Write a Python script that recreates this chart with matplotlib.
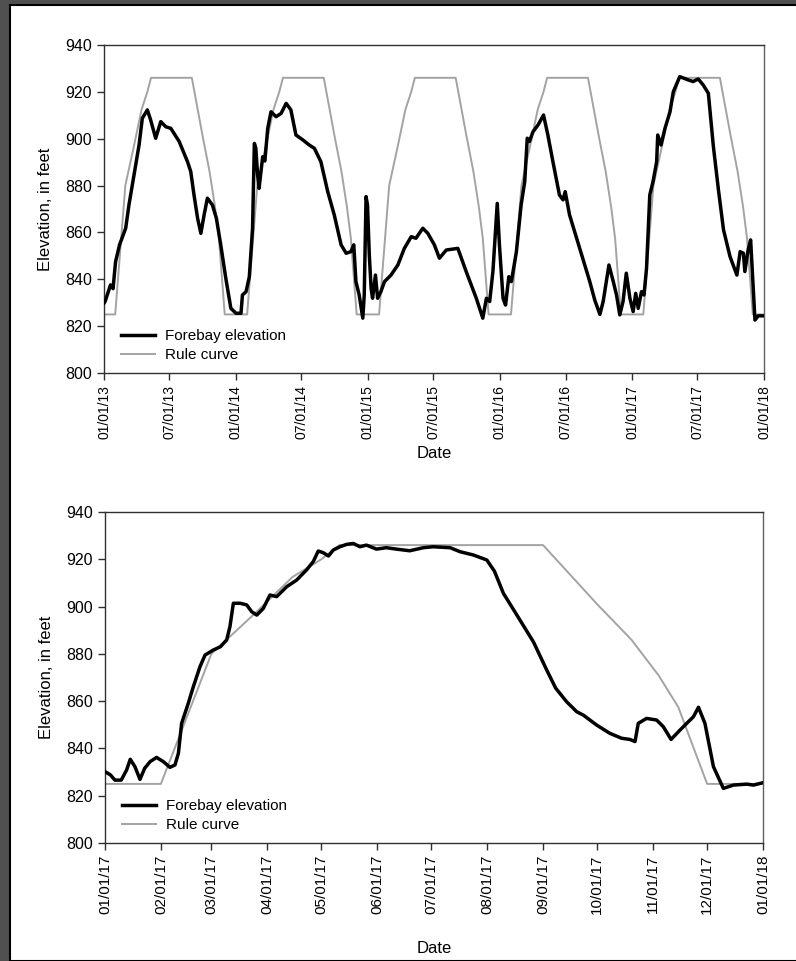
import numpy as np
import pandas as pd
import matplotlib
matplotlib.use('Agg')
import matplotlib.pyplot as plt
import matplotlib.dates as mdates
from matplotlib.patches import Rectangle

# ---- data ------------------------------------------------------------
# forebay elevation 2013-2017, days since 01/01/13
top_day = [0, 3, 18, 25, 32, 43, 60, 69, 83, 97, 106, 120, 129, 143, 157, 171, 185, 208,
           231, 240, 249, 259, 268, 277, 286, 300, 311, 323, 337, 351, 365, 379, 383, 393,
           402, 411, 416, 420, 425, 429, 439, 445, 453, 462, 476, 490, 504, 517, 531, 550,
           568, 582, 600, 619, 637, 656, 670, 683, 691, 697, 706, 716, 720, 725, 729, 734,
           739, 743, 751, 757, 766, 776, 794, 813, 831, 850, 863, 882, 896, 914, 928, 947,
           979, 1002, 1030, 1048, 1058, 1067, 1076, 1088, 1094, 1104, 1111, 1120, 1127,
           1141, 1154, 1164, 1171, 1177, 1187, 1201, 1216, 1228, 1242, 1260, 1270, 1276,
           1288, 1316, 1344, 1358, 1372, 1381, 1397, 1409, 1418, 1427, 1436, 1445, 1455,
           1464, 1471, 1478, 1487, 1494, 1501, 1510, 1519, 1529, 1532, 1541, 1552, 1566,
           1575, 1593, 1616, 1630, 1644, 1658, 1672, 1686, 1700, 1714, 1732, 1751, 1760,
           1769, 1773, 1782, 1789, 1801, 1810, 1824]
top_ft = [829.8, 830.5, 837.6, 836, 847.5, 854.7, 861.8, 871.7, 884.5, 897.3, 908.7, 912.3,
          908, 900.2, 907.3, 905.1, 904.4, 898.8, 890.2, 886, 876, 866, 859.6, 867.5, 874.6,
          871.7, 866, 854.7, 840.4, 827.6, 825.5, 825.5, 833.3, 834.7, 841, 861.8, 898, 896,
          884.5, 878.8, 892.3, 890.5, 904.4, 911.5, 909.4, 910.8, 915.1, 912.3, 901.6, 899.5,
          897.3, 895.9, 890.2, 877.4, 867.5, 854.7, 851.1, 851.8, 854.7, 839, 833.3, 823.4,
          833.3, 875.3, 871.7, 850.4, 836.2, 831.9, 841.8, 831.9, 834.7, 839, 841.8, 846.1,
          853.2, 858.2, 857.5, 861.8, 859.6, 854.7, 849, 852.5, 853.2, 843.3, 831.9, 823.4,
          831.9, 830.5, 843.3, 872.4, 854.7, 831.9, 829, 841.1, 839, 851.8, 871.7, 881.7,
          900.2, 898.8, 903, 905.9, 910.1, 901.6, 890.2, 876, 873.9, 877.4, 867.5, 853.2,
          839, 831, 825, 830.5, 846.1, 839, 833.3, 824.8, 830.5, 842.6, 831.9, 826.2, 834,
          827.6, 834.7, 833.3, 844.7, 876, 881.7, 890.2, 901.6, 897.3, 904.4, 911.5, 920,
          926.5, 925.1, 924.4, 925.5, 922.9, 919.4, 896.6, 878.1, 861.1, 849.7, 841.8, 851.8,
          851.1, 843.3, 852.5, 856.8, 822.6, 824.4, 824.4]

# forebay elevation 2017, days since 01/01/17
bot_day = [0, 3, 5.5, 9, 12, 14, 16.6, 19.4, 22, 25, 28.6, 32.4, 36, 38.8, 40.7, 42.5, 46.2,
           49, 52.7, 55.5, 60, 64, 67.5, 69.3, 71.2, 75, 78.6, 81.4, 84.2, 87.8, 91.5, 95.2,
           100.8, 106.3, 111.8, 115.5, 118.3, 121, 124, 126.6, 130.3, 134, 137.7, 141.4, 145,
           150.6, 156, 161.7, 169, 176.6, 182, 191.4, 197, 204.4, 211.8, 216, 221, 228.4,
           237.7, 245, 250, 256, 261.7, 265.3, 272.7, 280, 286.6, 291.2, 294, 295.8, 300.4,
           306, 309.7, 314, 319, 323.6, 326.4, 329.2, 332.8, 337.5, 343, 348.6, 356, 359.7, 365]
bot_ft = [830.2, 828.8, 826.6, 826.6, 830.9, 835.4, 832.3, 826.9, 831.6, 834.4, 836.2, 834.4,
          832, 833, 837.9, 850.6, 859.1, 866.1, 874.6, 879.5, 881.6, 883, 885.9, 891.5, 901.4,
          901.4, 900.7, 897.8, 896.4, 899.2, 904.9, 904.2, 908.4, 911.2, 915.5, 919, 923.5,
          922.8, 921.4, 923.9, 925.3, 926.3, 926.7, 925.3, 926, 924.3, 924.9, 924.3, 923.6,
          924.9, 925.3, 924.9, 923.2, 921.8, 919.7, 915, 905.6, 896.5, 885, 873.2, 865.5,
          859.8, 855.5, 854.1, 849.9, 846.4, 844.3, 843.8, 842.9, 850.6, 852.7, 852, 849.2,
          843.8, 847.8, 851.3, 853.4, 857.4, 850.6, 832.3, 823.1, 824.5, 824.9, 824.5, 825.5]

# annual rule curve (same every year)
rule_md = ['01-01', '02-01', '03-01', '03-25', '04-15', '05-01', '05-11', '09-01',
           '10-01', '10-20', '11-04', '11-15', '12-01', '12-31']
rule_ft = [825, 825, 880, 897, 912.5, 920, 926, 926, 901, 886, 871, 857.5, 825, 825]
rule_years = [2013, 2014, 2015, 2016, 2017]

top_dates = pd.Timestamp('2013-01-01') + pd.to_timedelta(top_day, unit='D')
bot_dates = pd.Timestamp('2017-01-01') + pd.to_timedelta(bot_day, unit='D')
top_rule_dates = pd.to_datetime([f'{y}-{md}' for y in rule_years for md in rule_md])
top_rule_ft = rule_ft * len(rule_years)
bot_rule_dates = pd.to_datetime([f'2017-{md}' for md in rule_md])

# ---- figure -------------------------------------------------------------
fig = plt.figure(figsize=(7.96, 9.61), dpi=100, facecolor='#505050')
fig.patches.append(Rectangle((10 / 796, 0), 1, 1 - 5 / 961, transform=fig.transFigure,
                             facecolor='white', edgecolor='black', linewidth=1.5, zorder=-10))

regular = ['Liberation Sans', 'DejaVu Sans']

ax1 = fig.add_axes([104 / 796, 1 - 373 / 961, 660 / 796, 328 / 961])
ax2 = fig.add_axes([105 / 796, 1 - 843 / 961, 658 / 796, 331 / 961])


def style(ax, xmin, xmax, ticks, xtick_size, date_pad):
    ax.set_xlim(pd.Timestamp(xmin), pd.Timestamp(xmax))
    ax.set_ylim(800, 940)
    ax.set_yticks(range(800, 941, 20))
    ax.set_xticks(ticks)
    ax.xaxis.set_major_formatter(mdates.DateFormatter('%m/%d/%y'))
    for s in ax.spines.values():
        s.set_color('#303030')
        s.set_linewidth(1)
    ax.spines['right'].set_color('#606060')
    ax.tick_params(direction='out', length=5, width=1, color='#303030')
    for t in ax.get_yticklabels():
        t.set_fontfamily(regular)
        t.set_fontsize(11.5)
    for t in ax.get_xticklabels():
        t.set_fontfamily(regular)
        t.set_fontsize(xtick_size)
        t.set_rotation(90)
    ax.set_xlabel('Date', family=regular, fontsize=12, labelpad=date_pad)
    ax.set_ylabel('Elevation, in feet', family=regular, fontsize=12, labelpad=9)


for ax, d, f, rd, rf in [(ax1, top_dates, top_ft, top_rule_dates, top_rule_ft),
                         (ax2, bot_dates, bot_ft, bot_rule_dates, rule_ft)]:
    ax.plot(d, f, color='black', linewidth=2.5, label='Forebay elevation', zorder=3)
    ax.plot(rd, rf, color='#a3a3a3', linewidth=1.4, label='Rule curve', zorder=2)
    ax.legend(loc='lower left', frameon=False, prop={'family': regular, 'size': 11},
              handlelength=2.2, handletextpad=0.65, labelspacing=0.35,
              borderaxespad=0.3, bbox_to_anchor=(0.01, 0.0))

style(ax1, '2013-01-01', '2018-01-01',
      pd.date_range('2013-01-01', '2018-01-01', freq='6MS'), 10, 5.5)
style(ax2, '2017-01-01', '2018-01-01',
      pd.date_range('2017-01-01', '2018-01-01', freq='MS'), 11, 19)

fig.savefig('out.png', dpi=100, facecolor=fig.get_facecolor())
